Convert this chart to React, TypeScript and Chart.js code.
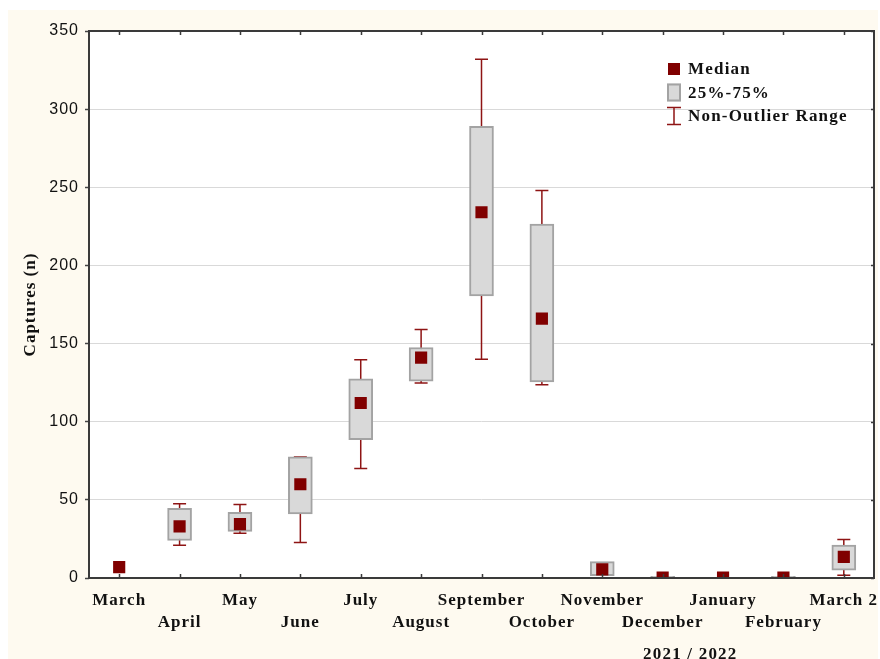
import React, { useEffect, useRef } from 'react';
import { Chart, registerables } from 'chart.js';

Chart.register(...registerables);

const categories = ['March', 'April', 'May', 'June', 'July', 'August', 'September', 'October', 'November', 'December', 'January', 'February', 'March 2'];
const medians = [7, 33, 34.5, 60, 112, 141, 234, 166, 5.5, 0.3, 0.3, 0.3, 13.5];
const q1 = [null, 24, 29.8, 41, 88.5, 126, 180.5, 125.5, 1.5, 0, null, 0, 5];
const q3 = [null, 44.5, 42, 77.5, 127.5, 147.5, 289, 226.5, 10.5, 1, null, 1, 21];
const whiskerLow = [null, 21, 28.7, 22.7, 70, 124.7, 140, 123.7, null, null, null, null, 1.8];
const whiskerHigh = [null, 47.5, 47, 77.5, 139.7, 159, 332, 248, null, null, null, null, 24.6];
const yMin = 0;
const yMax = 350;
const yStep = 50;
const yTitle = 'Captures (n)';
const periodLabel = '2021 / 2022';
const legendLabels = ['Median', '25%-75%', 'Non-Outlier Range'];

const MEDIAN_COLOR = '#800000';
const WHISKER_COLOR = '#8e1414';
const BOX_FILL = '#d9d9d9';
const BOX_BORDER = '#a3a3a3';
const FRAME = '#3a3a3a';
const SERIF = '"Liberation Serif", "Times New Roman", serif';
const SANS = '"Liberation Sans", Arial, sans-serif';

const boxData = categories.map((_, i) =>
  q1[i] == null || q3[i] == null ? null : [q1[i] as number, q3[i] as number]
);

const spacingPlugin = {
  id: 'spacing',
  beforeUpdate(chart: any) {
    (chart.ctx as any).letterSpacing = '1px';
  },
  beforeDraw(chart: any) {
    const { ctx, chartArea } = chart;
    (ctx as any).letterSpacing = '1px';
    ctx.save();
    ctx.fillStyle = '#ffffff';
    ctx.fillRect(chartArea.left, chartArea.top, chartArea.right - chartArea.left, chartArea.bottom - chartArea.top);
    ctx.restore();
  },
};

const whiskerPlugin = {
  id: 'whiskers',
  beforeDatasetsDraw(chart: any) {
    const { ctx, chartArea, scales } = chart;
    const x = scales.x;
    const y = scales.y;
    ctx.save();
    ctx.beginPath();
    ctx.rect(chartArea.left, chartArea.top, chartArea.right - chartArea.left, chartArea.bottom - chartArea.top);
    ctx.clip();
    ctx.strokeStyle = WHISKER_COLOR;
    ctx.lineWidth = 1.5;
    categories.forEach((_, i) => {
      const lo = whiskerLow[i];
      const hi = whiskerHigh[i];
      if (lo == null || hi == null) return;
      const px = x.getPixelForValue(i);
      const yl = y.getPixelForValue(lo);
      const yh = y.getPixelForValue(hi);
      ctx.beginPath();
      ctx.moveTo(px, yl);
      ctx.lineTo(px, yh);
      ctx.moveTo(px - 6.5, yl);
      ctx.lineTo(px + 6.5, yl);
      ctx.moveTo(px - 6.5, yh);
      ctx.lineTo(px + 6.5, yh);
      ctx.stroke();
    });
    ctx.restore();
  },
};

const decorPlugin = {
  id: 'decor',
  afterDraw(chart: any) {
    const { ctx, chartArea, scales } = chart;
    const x = scales.x;
    const y = scales.y;
    const { left, right, top, bottom } = chartArea;
    ctx.save();
    // frame
    ctx.strokeStyle = FRAME;
    ctx.lineWidth = 2;
    ctx.strokeRect(left, top, right - left, bottom - top);
    // x ticks (inward, bottom & top)
    ctx.lineWidth = 1.5;
    categories.forEach((_, i) => {
      const px = Math.round(x.getPixelForValue(i)) + 0.5;
      ctx.beginPath();
      ctx.moveTo(px, bottom);
      ctx.lineTo(px, bottom - 4);
      ctx.moveTo(px, top);
      ctx.lineTo(px, top + 4);
      ctx.stroke();
    });
    // right y ticks
    for (let v = yMin; v <= yMax; v += yStep) {
      const py = Math.round(y.getPixelForValue(v)) + 0.5;
      ctx.beginPath();
      ctx.moveTo(right, py);
      ctx.lineTo(right - 3, py);
      ctx.stroke();
    }
    // legend
    const lx = right - 207;
    const rows = [top + 38, top + 61.5, top + 85];
    ctx.fillStyle = MEDIAN_COLOR;
    ctx.fillRect(lx + 1, rows[0] - 6, 12, 12);
    ctx.fillStyle = BOX_FILL;
    ctx.fillRect(lx, rows[1] - 9, 14, 18);
    ctx.strokeStyle = BOX_BORDER;
    ctx.lineWidth = 2;
    ctx.strokeRect(lx + 1, rows[1] - 8, 12, 16);
    ctx.strokeStyle = WHISKER_COLOR;
    ctx.lineWidth = 1.5;
    ctx.beginPath();
    ctx.moveTo(lx + 7, rows[2] - 8.5);
    ctx.lineTo(lx + 7, rows[2] + 8.5);
    ctx.moveTo(lx, rows[2] - 8.5);
    ctx.lineTo(lx + 14, rows[2] - 8.5);
    ctx.moveTo(lx, rows[2] + 8.5);
    ctx.lineTo(lx + 14, rows[2] + 8.5);
    ctx.stroke();
    (ctx as any).letterSpacing = '1.2px';
    ctx.font = `bold 17px ${SERIF}`;
    ctx.fillStyle = '#111111';
    ctx.textBaseline = 'middle';
    ctx.textAlign = 'left';
    legendLabels.forEach((t, i) => ctx.fillText(t, lx + 21, rows[i] + 1));
    // period label
    ctx.textAlign = 'center';
    ctx.textBaseline = 'alphabetic';
    ctx.fillText(periodLabel, left + (right - left) * 0.766, chart.height);
    ctx.restore();
  },
};

export default function App() {
  const ref = useRef<HTMLCanvasElement | null>(null);
  useEffect(() => {
    if (!ref.current) return;
    const chart = new Chart(ref.current, {
      type: 'bar',
      data: {
        labels: categories,
        datasets: [
          {
            type: 'line',
            label: 'Median',
            data: medians,
            showLine: false,
            pointStyle: 'rect',
            pointRadius: 8.6,
            pointBackgroundColor: MEDIAN_COLOR,
            pointBorderColor: MEDIAN_COLOR,
            pointBorderWidth: 0,
            order: 0,
          } as any,
          {
            type: 'bar',
            label: '25%-75%',
            data: boxData as any,
            backgroundColor: BOX_FILL,
            borderColor: BOX_BORDER,
            borderWidth: 2,
            borderSkipped: false,
            barThickness: 24,
            order: 1,
          } as any,
        ],
      },
      options: {
        responsive: false,
        animation: false,
        events: [],
        layout: { autoPadding: false, padding: { left: 0, top: 21, right: 4, bottom: 0 } },
        plugins: { legend: { display: false }, tooltip: { enabled: false }, title: { display: false } },
        scales: {
          x: {
            type: 'category',
            offset: true,
            grid: { display: false, drawTicks: false, offset: false },
            border: { display: false },
            ticks: {
              autoSkip: false,
              maxRotation: 0,
              minRotation: 0,
              padding: 12,
              color: '#111111',
              font: { family: SERIF, size: 17, weight: 'bold', lineHeight: 22 / 17 },
              callback: (_v: any, i: number) => (i % 2 === 0 ? [categories[i]] : ['', categories[i]]),
            },
            afterFit: (s: any) => {
              s.height = 81;
              s.paddingLeft = 0;
              s.paddingRight = 0;
            },
          },
          y: {
            min: yMin,
            max: yMax,
            grid: { color: '#d9d9d9', lineWidth: 1, drawTicks: true, tickLength: 4, tickColor: '#444444', tickWidth: 1.5 },
            border: { display: false },
            ticks: { stepSize: yStep, padding: 6, color: '#111111', font: { family: SANS, size: 16 } },
            title: {
              display: true,
              text: yTitle,
              color: '#111111',
              font: { family: SERIF, size: 17, weight: 'bold' },
              padding: { top: 12, bottom: 0 },
            },
            afterFit: (s: any) => {
              s.width = 81;
              s.paddingTop = 0;
              s.paddingBottom = 0;
            },
          },
        },
      },
      plugins: [spacingPlugin, whiskerPlugin, decorPlugin],
    } as any);
    return () => chart.destroy();
  }, []);
  return (
    <div style={{ position: 'fixed', left: 8, top: 10, width: 870, height: 649, background: '#fefaf0' }}>
      <canvas ref={ref} width={870} height={649} style={{ display: 'block' }} />
    </div>
  );
}
